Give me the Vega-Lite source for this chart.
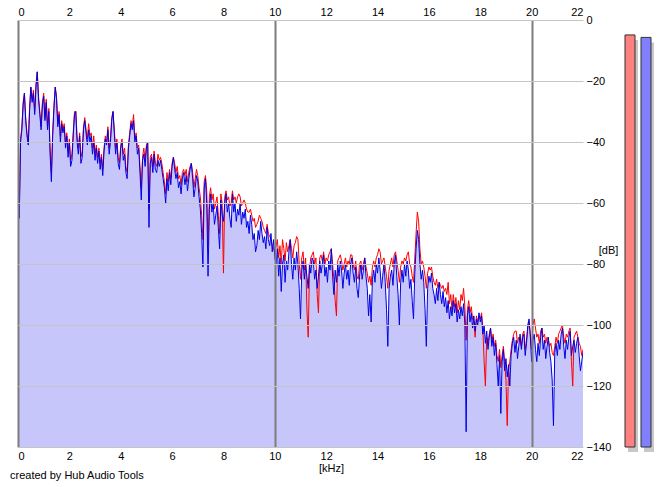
{
  "$schema": "https://vega.github.io/schema/vega-lite/v6.json",
  "width": 565,
  "height": 427,
  "autosize": "none",
  "padding": {"left": 18, "top": 20, "right": 82, "bottom": 40},
  "background": "white",
  "title": {
    "text": "created by Hub Audio Tools",
    "orient": "bottom",
    "anchor": "start",
    "frame": "group",
    "fontSize": 11,
    "fontWeight": "normal",
    "font": "Liberation Sans",
    "color": "black",
    "dx": -8,
    "offset": -3
  },
  "datasets": {
    "spectrum": [
      {"f":0.00,"b":-45,"r":-44},{"f":0.05,"b":-65,"r":-62},{"f":0.10,"b":-40,"r":-39},{"f":0.15,"b":-36,"r":-35},{"f":0.20,"b":-28,"r":-27},
      {"f":0.25,"b":-24,"r":-24},{"f":0.30,"b":-33,"r":-32},{"f":0.35,"b":-38,"r":-37},{"f":0.40,"b":-41,"r":-40},{"f":0.45,"b":-30,"r":-29},
      {"f":0.50,"b":-22,"r":-22},{"f":0.55,"b":-27,"r":-26},{"f":0.60,"b":-24,"r":-23},{"f":0.65,"b":-31,"r":-30},{"f":0.70,"b":-22,"r":-21},
      {"f":0.75,"b":-17,"r":-17},{"f":0.80,"b":-26,"r":-25},{"f":0.85,"b":-31,"r":-30},{"f":0.90,"b":-36,"r":-35},{"f":0.95,"b":-28,"r":-27},
      {"f":1.00,"b":-25,"r":-24},{"f":1.05,"b":-33,"r":-32},{"f":1.10,"b":-27,"r":-26},{"f":1.15,"b":-36,"r":-35},{"f":1.20,"b":-30,"r":-29},
      {"f":1.25,"b":-44,"r":-42},{"f":1.30,"b":-53,"r":-50},{"f":1.35,"b":-38,"r":-37},{"f":1.40,"b":-29,"r":-28},{"f":1.45,"b":-22,"r":-22},
      {"f":1.50,"b":-26,"r":-25},{"f":1.55,"b":-35,"r":-34},{"f":1.60,"b":-31,"r":-30},{"f":1.65,"b":-40,"r":-38},{"f":1.70,"b":-34,"r":-33},
      {"f":1.75,"b":-37,"r":-36},{"f":1.80,"b":-35,"r":-34},{"f":1.85,"b":-42,"r":-40},{"f":1.90,"b":-38,"r":-37},{"f":1.95,"b":-45,"r":-43},
      {"f":2.00,"b":-40,"r":-39},{"f":2.05,"b":-48,"r":-46},{"f":2.10,"b":-46,"r":-44},{"f":2.15,"b":-38,"r":-37},{"f":2.20,"b":-31,"r":-30},
      {"f":2.25,"b":-30,"r":-30},{"f":2.30,"b":-40,"r":-38},{"f":2.35,"b":-44,"r":-42},{"f":2.40,"b":-38,"r":-37},{"f":2.45,"b":-47,"r":-45},
      {"f":2.50,"b":-45,"r":-43},{"f":2.55,"b":-36,"r":-35},{"f":2.60,"b":-33,"r":-32},{"f":2.65,"b":-37,"r":-36},{"f":2.70,"b":-41,"r":-39},
      {"f":2.75,"b":-36,"r":-34},{"f":2.80,"b":-40,"r":-38},{"f":2.85,"b":-38,"r":-37},{"f":2.90,"b":-44,"r":-42},{"f":2.95,"b":-40,"r":-38},
      {"f":3.00,"b":-46,"r":-44},{"f":3.05,"b":-42,"r":-41},{"f":3.10,"b":-47,"r":-45},{"f":3.15,"b":-43,"r":-42},{"f":3.20,"b":-49,"r":-47},
      {"f":3.25,"b":-45,"r":-44},{"f":3.30,"b":-51,"r":-49},{"f":3.35,"b":-43,"r":-42},{"f":3.40,"b":-39,"r":-38},{"f":3.45,"b":-41,"r":-40},
      {"f":3.50,"b":-36,"r":-35},{"f":3.55,"b":-44,"r":-42},{"f":3.60,"b":-40,"r":-39},{"f":3.65,"b":-33,"r":-32},{"f":3.70,"b":-30,"r":-30},
      {"f":3.75,"b":-37,"r":-36},{"f":3.80,"b":-44,"r":-42},{"f":3.85,"b":-40,"r":-39},{"f":3.90,"b":-47,"r":-45},{"f":3.95,"b":-49,"r":-47},
      {"f":4.00,"b":-42,"r":-41},{"f":4.05,"b":-40,"r":-39},{"f":4.10,"b":-46,"r":-44},{"f":4.15,"b":-44,"r":-42},{"f":4.20,"b":-50,"r":-48},
      {"f":4.25,"b":-52,"r":-50},{"f":4.30,"b":-42,"r":-41},{"f":4.35,"b":-38,"r":-37},{"f":4.40,"b":-34,"r":-33},{"f":4.45,"b":-36,"r":-35},
      {"f":4.50,"b":-33,"r":-31},{"f":4.55,"b":-40,"r":-39},{"f":4.60,"b":-38,"r":-37},{"f":4.65,"b":-44,"r":-42},{"f":4.70,"b":-42,"r":-41},
      {"f":4.75,"b":-50,"r":-48},{"f":4.80,"b":-59,"r":-55},{"f":4.85,"b":-46,"r":-45},{"f":4.90,"b":-44,"r":-42},{"f":4.95,"b":-48,"r":-46},
      {"f":5.00,"b":-42,"r":-41},{"f":5.05,"b":-40,"r":-40},{"f":5.10,"b":-68,"r":-62},{"f":5.15,"b":-47,"r":-45},{"f":5.20,"b":-45,"r":-44},
      {"f":5.25,"b":-50,"r":-48},{"f":5.30,"b":-44,"r":-43},{"f":5.35,"b":-49,"r":-47},{"f":5.40,"b":-50,"r":-48},{"f":5.45,"b":-46,"r":-44},
      {"f":5.50,"b":-48,"r":-46},{"f":5.55,"b":-46,"r":-45},{"f":5.60,"b":-49,"r":-47},{"f":5.65,"b":-52,"r":-50},{"f":5.70,"b":-55,"r":-53},
      {"f":5.75,"b":-60,"r":-57},{"f":5.80,"b":-52,"r":-50},{"f":5.85,"b":-56,"r":-53},{"f":5.90,"b":-50,"r":-49},{"f":5.95,"b":-54,"r":-52},
      {"f":6.00,"b":-48,"r":-47},{"f":6.05,"b":-45,"r":-45},{"f":6.10,"b":-49,"r":-47},{"f":6.15,"b":-52,"r":-50},{"f":6.20,"b":-50,"r":-48},
      {"f":6.25,"b":-55,"r":-52},{"f":6.30,"b":-53,"r":-51},{"f":6.35,"b":-57,"r":-54},{"f":6.40,"b":-52,"r":-50},{"f":6.45,"b":-50,"r":-49},
      {"f":6.50,"b":-54,"r":-51},{"f":6.55,"b":-51,"r":-49},{"f":6.60,"b":-56,"r":-53},{"f":6.65,"b":-52,"r":-50},{"f":6.70,"b":-49,"r":-48},
      {"f":6.75,"b":-47,"r":-47},{"f":6.80,"b":-52,"r":-50},{"f":6.85,"b":-58,"r":-55},{"f":6.90,"b":-55,"r":-52},{"f":6.95,"b":-51,"r":-49},
      {"f":7.00,"b":-53,"r":-51},{"f":7.05,"b":-58,"r":-55},{"f":7.10,"b":-62,"r":-58},{"f":7.15,"b":-70,"r":-64},{"f":7.20,"b":-81,"r":-72},
      {"f":7.25,"b":-55,"r":-53},{"f":7.30,"b":-52,"r":-51},{"f":7.35,"b":-60,"r":-56},{"f":7.40,"b":-84,"r":-74},{"f":7.45,"b":-62,"r":-58},
      {"f":7.50,"b":-57,"r":-55},{"f":7.55,"b":-63,"r":-59},{"f":7.60,"b":-60,"r":-57},{"f":7.65,"b":-67,"r":-62},{"f":7.70,"b":-64,"r":-60},
      {"f":7.75,"b":-61,"r":-58},{"f":7.80,"b":-68,"r":-64},{"f":7.85,"b":-75,"r":-70},{"f":7.90,"b":-59,"r":-57},{"f":7.95,"b":-64,"r":-60},
      {"f":8.00,"b":-66,"r":-83},{"f":8.05,"b":-60,"r":-58},{"f":8.10,"b":-57,"r":-56},{"f":8.15,"b":-63,"r":-59},{"f":8.20,"b":-60,"r":-58},
      {"f":8.25,"b":-65,"r":-61},{"f":8.30,"b":-68,"r":-60},{"f":8.35,"b":-57,"r":-56},{"f":8.40,"b":-63,"r":-59},{"f":8.45,"b":-60,"r":-58},
      {"f":8.50,"b":-66,"r":-60},{"f":8.55,"b":-62,"r":-58},{"f":8.60,"b":-64,"r":-57},{"f":8.65,"b":-60,"r":-58},{"f":8.70,"b":-67,"r":-61},
      {"f":8.75,"b":-63,"r":-60},{"f":8.80,"b":-65,"r":-59},{"f":8.85,"b":-62,"r":-60},{"f":8.90,"b":-68,"r":-62},{"f":8.95,"b":-66,"r":-63},
      {"f":9.00,"b":-70,"r":-63},{"f":9.05,"b":-64,"r":-62},{"f":9.10,"b":-67,"r":-64},{"f":9.15,"b":-72,"r":-66},{"f":9.20,"b":-70,"r":-65},
      {"f":9.25,"b":-76,"r":-68},{"f":9.30,"b":-74,"r":-67},{"f":9.35,"b":-69,"r":-66},{"f":9.40,"b":-72,"r":-64},{"f":9.45,"b":-66,"r":-65},
      {"f":9.50,"b":-70,"r":-66},{"f":9.55,"b":-73,"r":-68},{"f":9.60,"b":-71,"r":-69},{"f":9.65,"b":-75,"r":-70},{"f":9.70,"b":-68,"r":-67},
      {"f":9.75,"b":-72,"r":-70},{"f":9.80,"b":-74,"r":-71},{"f":9.85,"b":-70,"r":-72},{"f":9.90,"b":-76,"r":-74},{"f":9.95,"b":-72,"r":-75},
      {"f":10.00,"b":-78,"r":-76},{"f":10.05,"b":-80,"r":-74},{"f":10.10,"b":-75,"r":-72},{"f":10.15,"b":-84,"r":-78},{"f":10.20,"b":-78,"r":-74},
      {"f":10.25,"b":-89,"r":-80},{"f":10.30,"b":-80,"r":-72},{"f":10.35,"b":-77,"r":-75},{"f":10.40,"b":-86,"r":-79},{"f":10.45,"b":-79,"r":-73},
      {"f":10.50,"b":-82,"r":-76},{"f":10.55,"b":-76,"r":-74},{"f":10.60,"b":-72,"r":-72},{"f":10.65,"b":-80,"r":-75},{"f":10.70,"b":-85,"r":-78},
      {"f":10.75,"b":-78,"r":-74},{"f":10.80,"b":-82,"r":-73},{"f":10.85,"b":-76,"r":-71},{"f":10.90,"b":-80,"r":-72},{"f":10.95,"b":-88,"r":-80},
      {"f":11.00,"b":-98,"r":-85},{"f":11.05,"b":-82,"r":-78},{"f":11.10,"b":-79,"r":-76},{"f":11.15,"b":-85,"r":-82},{"f":11.20,"b":-80,"r":-78},
      {"f":11.25,"b":-84,"r":-95},{"f":11.30,"b":-88,"r":-104},{"f":11.35,"b":-80,"r":-82},{"f":11.40,"b":-83,"r":-78},{"f":11.45,"b":-78,"r":-77},
      {"f":11.50,"b":-79,"r":-76},{"f":11.55,"b":-85,"r":-80},{"f":11.60,"b":-82,"r":-78},{"f":11.65,"b":-88,"r":-90},{"f":11.70,"b":-84,"r":-96},
      {"f":11.75,"b":-79,"r":-78},{"f":11.80,"b":-83,"r":-77},{"f":11.85,"b":-80,"r":-79},{"f":11.90,"b":-77,"r":-76},{"f":11.95,"b":-84,"r":-80},
      {"f":12.00,"b":-81,"r":-78},{"f":12.05,"b":-86,"r":-79},{"f":12.10,"b":-79,"r":-77},{"f":12.15,"b":-82,"r":-76},{"f":12.20,"b":-75,"r":-75},
      {"f":12.25,"b":-84,"r":-80},{"f":12.30,"b":-90,"r":-85},{"f":12.35,"b":-82,"r":-92},{"f":12.40,"b":-86,"r":-97},{"f":12.45,"b":-80,"r":-79},
      {"f":12.50,"b":-84,"r":-78},{"f":12.55,"b":-79,"r":-77},{"f":12.60,"b":-82,"r":-79},{"f":12.65,"b":-88,"r":-82},{"f":12.70,"b":-83,"r":-80},
      {"f":12.75,"b":-80,"r":-78},{"f":12.80,"b":-85,"r":-81},{"f":12.85,"b":-82,"r":-79},{"f":12.90,"b":-87,"r":-80},{"f":12.95,"b":-80,"r":-77},
      {"f":13.00,"b":-78,"r":-77},{"f":13.05,"b":-83,"r":-80},{"f":13.10,"b":-86,"r":-82},{"f":13.15,"b":-81,"r":-79},{"f":13.20,"b":-88,"r":-84},
      {"f":13.25,"b":-91,"r":-85},{"f":13.30,"b":-84,"r":-80},{"f":13.35,"b":-80,"r":-79},{"f":13.40,"b":-85,"r":-82},{"f":13.45,"b":-82,"r":-80},
      {"f":13.50,"b":-78,"r":-78},{"f":13.55,"b":-84,"r":-81},{"f":13.60,"b":-88,"r":-83},{"f":13.65,"b":-97,"r":-86},{"f":13.70,"b":-90,"r":-84},
      {"f":13.75,"b":-99,"r":-87},{"f":13.80,"b":-85,"r":-81},{"f":13.85,"b":-82,"r":-79},{"f":13.90,"b":-86,"r":-81},{"f":13.95,"b":-80,"r":-78},
      {"f":14.00,"b":-83,"r":-77},{"f":14.05,"b":-78,"r":-75},{"f":14.10,"b":-82,"r":-76},{"f":14.15,"b":-88,"r":-80},{"f":14.20,"b":-84,"r":-79},
      {"f":14.25,"b":-80,"r":-78},{"f":14.30,"b":-86,"r":-81},{"f":14.35,"b":-95,"r":-84},{"f":14.40,"b":-107,"r":-88},{"f":14.45,"b":-88,"r":-82},
      {"f":14.50,"b":-84,"r":-80},{"f":14.55,"b":-82,"r":-78},{"f":14.60,"b":-87,"r":-81},{"f":14.65,"b":-80,"r":-77},{"f":14.70,"b":-77,"r":-76},
      {"f":14.75,"b":-84,"r":-79},{"f":14.80,"b":-90,"r":-82},{"f":14.85,"b":-100,"r":-86},{"f":14.90,"b":-86,"r":-81},{"f":14.95,"b":-82,"r":-79},
      {"f":15.00,"b":-86,"r":-80},{"f":15.05,"b":-80,"r":-78},{"f":15.10,"b":-84,"r":-79},{"f":15.15,"b":-79,"r":-77},{"f":15.20,"b":-82,"r":-76},
      {"f":15.25,"b":-88,"r":-80},{"f":15.30,"b":-85,"r":-81},{"f":15.35,"b":-92,"r":-84},{"f":15.40,"b":-98,"r":-86},{"f":15.45,"b":-83,"r":-78},
      {"f":15.50,"b":-75,"r":-70},{"f":15.55,"b":-69,"r":-63},{"f":15.60,"b":-72,"r":-66},{"f":15.65,"b":-80,"r":-75},{"f":15.70,"b":-85,"r":-80},
      {"f":15.75,"b":-82,"r":-79},{"f":15.80,"b":-86,"r":-81},{"f":15.85,"b":-95,"r":-84},{"f":15.90,"b":-107,"r":-88},{"f":15.95,"b":-88,"r":-83},
      {"f":16.00,"b":-84,"r":-81},{"f":16.05,"b":-86,"r":-82},{"f":16.10,"b":-83,"r":-81},{"f":16.15,"b":-88,"r":-84},{"f":16.20,"b":-90,"r":-86},
      {"f":16.25,"b":-93,"r":-87},{"f":16.30,"b":-88,"r":-85},{"f":16.35,"b":-92,"r":-88},{"f":16.40,"b":-86,"r":-86},{"f":16.45,"b":-90,"r":-87},
      {"f":16.50,"b":-93,"r":-88},{"f":16.55,"b":-89,"r":-87},{"f":16.60,"b":-94,"r":-89},{"f":16.65,"b":-91,"r":-88},{"f":16.70,"b":-96,"r":-90},
      {"f":16.75,"b":-92,"r":-86},{"f":16.80,"b":-98,"r":-93},{"f":16.85,"b":-94,"r":-90},{"f":16.90,"b":-97,"r":-95},{"f":16.95,"b":-92,"r":-90},
      {"f":17.00,"b":-96,"r":-94},{"f":17.05,"b":-93,"r":-91},{"f":17.10,"b":-99,"r":-96},{"f":17.15,"b":-95,"r":-92},{"f":17.20,"b":-98,"r":-95},
      {"f":17.25,"b":-94,"r":-90},{"f":17.30,"b":-97,"r":-92},{"f":17.35,"b":-93,"r":-88},{"f":17.40,"b":-100,"r":-94},{"f":17.45,"b":-135,"r":-105},
      {"f":17.50,"b":-97,"r":-95},{"f":17.55,"b":-94,"r":-92},{"f":17.60,"b":-99,"r":-96},{"f":17.65,"b":-96,"r":-94},{"f":17.70,"b":-101,"r":-98},
      {"f":17.75,"b":-97,"r":-99},{"f":17.80,"b":-102,"r":-104},{"f":17.85,"b":-98,"r":-97},{"f":17.90,"b":-100,"r":-99},{"f":17.95,"b":-96,"r":-97},
      {"f":18.00,"b":-99,"r":-98},{"f":18.05,"b":-97,"r":-96},{"f":18.10,"b":-103,"r":-101},{"f":18.15,"b":-100,"r":-112},{"f":18.20,"b":-106,"r":-120},
      {"f":18.25,"b":-102,"r":-104},{"f":18.30,"b":-108,"r":-106},{"f":18.35,"b":-104,"r":-103},{"f":18.40,"b":-101,"r":-101},{"f":18.45,"b":-107,"r":-105},
      {"f":18.50,"b":-104,"r":-103},{"f":18.55,"b":-110,"r":-107},{"f":18.60,"b":-106,"r":-105},{"f":18.65,"b":-113,"r":-110},{"f":18.70,"b":-120,"r":-112},
      {"f":18.75,"b":-110,"r":-108},{"f":18.80,"b":-129,"r":-114},{"f":18.85,"b":-112,"r":-110},{"f":18.90,"b":-108,"r":-107},{"f":18.95,"b":-115,"r":-112},
      {"f":19.00,"b":-111,"r":-118},{"f":19.05,"b":-117,"r":-133},{"f":19.10,"b":-113,"r":-115},{"f":19.15,"b":-120,"r":-112},{"f":19.20,"b":-110,"r":-108},
      {"f":19.25,"b":-106,"r":-105},{"f":19.30,"b":-104,"r":-103},{"f":19.35,"b":-109,"r":-102},{"f":19.40,"b":-105,"r":-102},{"f":19.45,"b":-111,"r":-106},
      {"f":19.50,"b":-107,"r":-104},{"f":19.55,"b":-103,"r":-105},{"f":19.60,"b":-108,"r":-107},{"f":19.65,"b":-104,"r":-103},{"f":19.70,"b":-103,"r":-102},
      {"f":19.75,"b":-110,"r":-108},{"f":19.80,"b":-106,"r":-105},{"f":19.85,"b":-100,"r":-101},{"f":19.90,"b":-98,"r":-99},{"f":19.95,"b":-104,"r":-103},
      {"f":20.00,"b":-112,"r":-108},{"f":20.05,"b":-105,"r":-100},{"f":20.10,"b":-103,"r":-98},{"f":20.15,"b":-108,"r":-101},{"f":20.20,"b":-112,"r":-104},
      {"f":20.25,"b":-106,"r":-103},{"f":20.30,"b":-110,"r":-106},{"f":20.35,"b":-104,"r":-102},{"f":20.40,"b":-101,"r":-101},{"f":20.45,"b":-108,"r":-104},
      {"f":20.50,"b":-105,"r":-103},{"f":20.55,"b":-111,"r":-106},{"f":20.60,"b":-107,"r":-104},{"f":20.65,"b":-104,"r":-105},{"f":20.70,"b":-109,"r":-107},
      {"f":20.75,"b":-112,"r":-106},{"f":20.80,"b":-118,"r":-109},{"f":20.85,"b":-133,"r":-110},{"f":20.90,"b":-109,"r":-107},{"f":20.95,"b":-106,"r":-104},
      {"f":21.00,"b":-110,"r":-106},{"f":21.05,"b":-105,"r":-103},{"f":21.10,"b":-108,"r":-102},{"f":21.15,"b":-103,"r":-101},{"f":21.20,"b":-101,"r":-100},
      {"f":21.25,"b":-107,"r":-104},{"f":21.30,"b":-111,"r":-106},{"f":21.35,"b":-105,"r":-103},{"f":21.40,"b":-108,"r":-104},{"f":21.45,"b":-104,"r":-102},
      {"f":21.50,"b":-102,"r":-101},{"f":21.55,"b":-110,"r":-112},{"f":21.60,"b":-107,"r":-120},{"f":21.65,"b":-105,"r":-104},{"f":21.70,"b":-109,"r":-103},
      {"f":21.75,"b":-106,"r":-102},{"f":21.80,"b":-104,"r":-104},{"f":21.85,"b":-110,"r":-106},{"f":21.90,"b":-115,"r":-107},{"f":21.95,"b":-112,"r":-110},
      {"f":22.00,"b":-109,"r":-108}
    ],
    "meters": [
      {"ch": "L", "level": -4.9},
      {"ch": "R", "level": -5.7}
    ]
  },
  "resolve": {
    "scale": {"x": "independent", "y": "independent"},
    "axis": {"x": "independent", "y": "independent"}
  },
  "layer": [
    {
      "data": {"name": "spectrum"},
      "mark": {"type": "area", "color": "#c6c6fa", "opacity": 1, "clip": true},
      "encoding": {
        "x": {
          "field": "f", "type": "quantitative",
          "scale": {"domain": [0, 22], "nice": false, "zero": false},
          "axis": {
            "orient": "bottom", "values": [0, 2, 4, 6, 8, 10, 12, 14, 16, 18, 20, 22],
            "grid": true, "zindex": 1, "domain": false, "ticks": false,
            "gridColor": {"condition": {"test": "datum.value % 10 === 0", "value": "#7c7c7c"}, "value": {"expr": "datum.value === 22 ? '#c4c4c4' : '#9a9a9a'"}},
            "gridWidth": {"condition": {"test": "datum.value % 10 === 0", "value": 2}, "value": 1},
            "gridOpacity": 1,
            "labelPadding": 3, "labelFontSize": 11, "labelFont": "Liberation Sans", "labelColor": "black",
            "title": "[kHz]", "titleFont": "Liberation Sans", "titleFontSize": 11, "titleFontWeight": "normal", "titleColor": "black",
            "titleX": 313, "titleY": 21, "titleBaseline": "middle", "titleAlign": "center"
          }
        },
        "y": {
          "field": "b", "type": "quantitative",
          "scale": {"domain": [-140, 0], "nice": false, "zero": false},
          "axis": {
            "orient": "right", "values": [0, -20, -40, -60, -80, -100, -120, -140],
            "grid": true, "zindex": 1, "domain": false, "ticks": false,
            "gridColor": "#c4c4c4", "gridWidth": 1, "gridOpacity": 1,
            "labelPadding": 3, "labelFontSize": 11, "labelFont": "Liberation Sans", "labelColor": "black",
            "title": "[dB]", "titleAngle": 0, "titleFont": "Liberation Sans", "titleFontSize": 11, "titleFontWeight": "normal", "titleColor": "black",
            "titleX": 25, "titleY": 230, "titleAlign": "center", "titleBaseline": "middle"
          }
        },
        "y2": {"datum": -140}
      }
    },
    {
      "data": {"name": "spectrum"},
      "mark": {"type": "line", "color": "#ff0000", "strokeWidth": 1, "clip": true},
      "encoding": {
        "x": {
          "field": "f", "type": "quantitative",
          "scale": {"domain": [0, 22], "nice": false, "zero": false},
          "axis": {
            "orient": "top", "values": [0, 2, 4, 6, 8, 10, 12, 14, 16, 18, 20, 22],
            "grid": false, "domain": false, "ticks": false,
            "labelPadding": 3, "labelFontSize": 11, "labelFont": "Liberation Sans", "labelColor": "black",
            "title": null
          }
        },
        "y": {
          "field": "r", "type": "quantitative",
          "scale": {"domain": [-140, 0], "nice": false, "zero": false},
          "axis": null
        }
      }
    },
    {
      "data": {"name": "spectrum"},
      "mark": {"type": "line", "color": "#0000e6", "strokeWidth": 1, "clip": true},
      "encoding": {
        "x": {
          "field": "f", "type": "quantitative",
          "scale": {"domain": [0, 22], "nice": false, "zero": false},
          "axis": null
        },
        "y": {
          "field": "b", "type": "quantitative",
          "scale": {"domain": [-140, 0], "nice": false, "zero": false},
          "axis": null
        }
      }
    },
    {
      "data": {"name": "meters"},
      "mark": {"type": "bar", "color": "#c8c8c8"},
      "encoding": {
        "x": {
          "field": "ch", "type": "nominal",
          "scale": {"type": "band", "domain": ["L", "R"], "range": [607, 639], "paddingInner": 0.375, "paddingOuter": 0.1875},
          "axis": null
        },
        "y": {
          "field": "level", "type": "quantitative",
          "scale": {"domain": [-140, 0], "nice": false, "zero": false, "range": [432, 5]},
          "axis": null
        },
        "y2": {"datum": -140}
      }
    },
    {
      "data": {"name": "meters"},
      "mark": {"type": "bar", "stroke": "#303030", "strokeWidth": 1},
      "encoding": {
        "x": {
          "field": "ch", "type": "nominal",
          "scale": {"type": "band", "domain": ["L", "R"], "range": [604, 636], "paddingInner": 0.375, "paddingOuter": 0.1875},
          "axis": null
        },
        "y": {
          "field": "level", "type": "quantitative",
          "scale": {"domain": [-140, 0], "nice": false, "zero": false},
          "axis": null
        },
        "y2": {"datum": -140},
        "color": {
          "field": "ch", "type": "nominal",
          "scale": {"domain": ["L", "R"], "range": ["#ff8080", "#8080ff"]},
          "legend": null
        }
      }
    }
  ],
  "config": {
    "view": {"stroke": null},
    "font": "Liberation Sans"
  }
}
